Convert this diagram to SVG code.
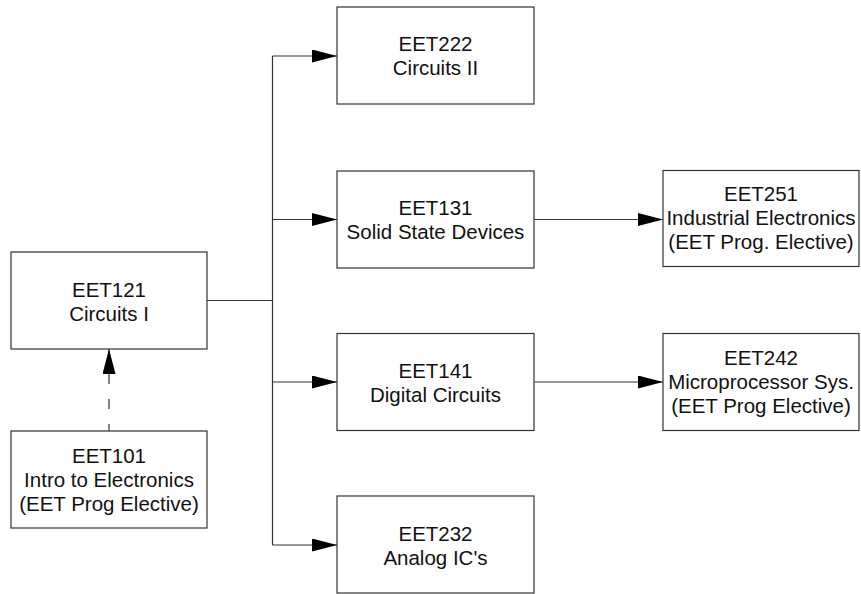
<svg xmlns="http://www.w3.org/2000/svg" width="861" height="594" viewBox="0 0 861 594">
  <style>
    .box { fill: #ffffff; stroke: #333333; stroke-width: 1.2; }
    .lbl { font-family: "Liberation Sans", Arial, sans-serif; font-size: 20.5px; fill: #111111; text-anchor: middle; }
    .wire { fill: none; stroke: #333333; stroke-width: 1.2; }
    .dash { stroke-dasharray: 10 15; }
  </style>
  <defs>
    <marker id="arrow" markerUnits="userSpaceOnUse" markerWidth="26" markerHeight="14" refX="25" refY="6.5" orient="auto-start-reverse">
      <path d="M0,0 L25,6.5 L0,13 Z" fill="#000000"/>
    </marker>
  </defs>
  <rect width="861" height="594" fill="#ffffff"/>

  <g id="connectors">
    <path class="wire" d="M207,300.5 L272.5,300.5"/>
    <path class="wire" d="M272.5,56 L272.5,545"/>
    <path class="wire" d="M272.5,56 L337,56" marker-end="url(#arrow)"/>
    <path class="wire" d="M272.5,219.5 L337,219.5" marker-end="url(#arrow)"/>
    <path class="wire" d="M272.5,382 L337,382" marker-end="url(#arrow)"/>
    <path class="wire" d="M272.5,545 L337,545" marker-end="url(#arrow)"/>
    <path class="wire" d="M534,219.5 L663,219.5" marker-end="url(#arrow)"/>
    <path class="wire" d="M534,382 L663,382" marker-end="url(#arrow)"/>
    <path class="wire dash" d="M109,349 L109,431" marker-start="url(#arrow)"/>
  </g>

  <g id="EET121">
    <rect class="box" x="11" y="252" width="196" height="97"/>
    <text class="lbl" x="109" y="297">EET121</text>
    <text class="lbl" x="109" y="321">Circuits I</text>
  </g>
  <g id="EET101">
    <rect class="box" x="11" y="431" width="196" height="97"/>
    <text class="lbl" x="109" y="463">EET101</text>
    <text class="lbl" x="109" y="487">Intro to Electronics</text>
    <text class="lbl" x="109" y="511">(EET Prog Elective)</text>
  </g>
  <g id="EET222">
    <rect class="box" x="337" y="7" width="197" height="97"/>
    <text class="lbl" x="435.5" y="51">EET222</text>
    <text class="lbl" x="435.5" y="75">Circuits II</text>
  </g>
  <g id="EET131">
    <rect class="box" x="337" y="171" width="197" height="97"/>
    <text class="lbl" x="435.5" y="215">EET131</text>
    <text class="lbl" x="435.5" y="239">Solid State Devices</text>
  </g>
  <g id="EET141">
    <rect class="box" x="337" y="333.5" width="197" height="97"/>
    <text class="lbl" x="435.5" y="377.5">EET141</text>
    <text class="lbl" x="435.5" y="401.5">Digital Circuits</text>
  </g>
  <g id="EET232">
    <rect class="box" x="337" y="496" width="197" height="97"/>
    <text class="lbl" x="435.5" y="540.5">EET232</text>
    <text class="lbl" x="435.5" y="564.5">Analog IC's</text>
  </g>
  <g id="EET251">
    <rect class="box" x="663" y="170.5" width="196" height="96"/>
    <text class="lbl" x="761" y="201">EET251</text>
    <text class="lbl" x="761" y="225">Industrial Electronics</text>
    <text class="lbl" x="761" y="249">(EET Prog. Elective)</text>
  </g>
  <g id="EET242">
    <rect class="box" x="663" y="333.5" width="196" height="97"/>
    <text class="lbl" x="761" y="365">EET242</text>
    <text class="lbl" x="761" y="389">Microprocessor Sys.</text>
    <text class="lbl" x="761" y="413">(EET Prog Elective)</text>
  </g>
</svg>
